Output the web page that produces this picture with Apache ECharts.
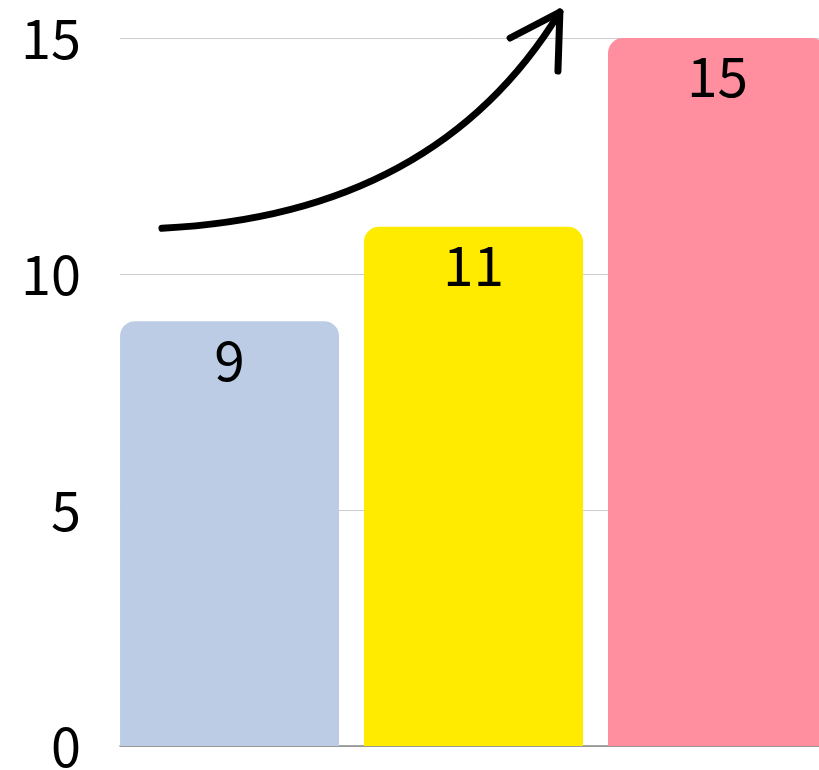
<!DOCTYPE html>
<html>
<head>
<meta charset="utf-8">
<script src="https://cdn.jsdelivr.net/npm/echarts@6/dist/echarts.min.js"></script>
<style>html,body{margin:0;padding:0;background:#fff}#c{width:819px;height:770px}</style>
</head>
<body>
<div id="c"></div>
<script>
var categories = ['A', 'B', 'C'];
var values = [9, 11, 15];
var colors = ['#BCCCE5', '#FFEB00', '#FF8F9F'];
var yTicks = [0, 5, 10, 15];
// arrow annotation in data coordinates: start, control, end, barbs
var arrowStart = [-0.277, 10.97];
var arrowCtrl = [0.846, 11.25];
var arrowEnd = [1.354, 15.55];
var arrowBarb1 = [1.150, 15.0];
var arrowBarb2 = [1.346, 14.3];

var FONT = '"Noto Sans CJK SC", "Source Sans Pro", "Noto Sans", sans-serif';
var chart = echarts.init(document.getElementById('c'));
var option = {
  animation: false,
  grid: { left: 120, right: 0, top: 38, bottom: 24, containLabel: false, outerBoundsMode: 'none' },
  xAxis: {
    type: 'value', min: -0.449, max: 2.416,
    axisLabel: { show: false }, axisTick: { show: false }, splitLine: { show: false },
    axisLine: { show: true, onZero: false, lineStyle: { color: '#888', width: 1.5 } }
  },
  yAxis: {
    type: 'value', min: yTicks[0], max: yTicks[yTicks.length - 1], interval: yTicks[1] - yTicks[0],
    axisLine: { show: false }, axisTick: { show: false },
    splitLine: { lineStyle: { color: '#cccccc', width: 1 } },
    axisLabel: { margin: 39, fontSize: 54, color: '#000', fontFamily: FONT }
  },
  series: [{
    type: 'bar',
    barWidth: 219,
    data: values.map(function (v, i) {
      return { value: [i, v], name: categories[i], itemStyle: { color: colors[i], borderRadius: [15, 15, 0, 0] } };
    }),
    label: {
      show: true, position: 'insideTop', distance: 11,
      fontSize: 55, color: '#000', fontFamily: FONT,
      formatter: function (p) { return p.value[1]; }
    }
  }]
};
chart.setOption(option);
function px(p) { return chart.convertToPixel({ gridIndex: 0 }, p); }
var s = px(arrowStart), c = px(arrowCtrl), e = px(arrowEnd), b1 = px(arrowBarb1), b2 = px(arrowBarb2);
chart.setOption({
  graphic: [
    { type: 'bezierCurve', shape: { x1: s[0], y1: s[1], cpx1: c[0], cpy1: c[1], x2: e[0], y2: e[1] },
      style: { stroke: '#000', lineWidth: 7, fill: null, lineCap: 'round' }, z: 100 },
    { type: 'polyline', shape: { points: [b1, e, b2] },
      style: { stroke: '#000', lineWidth: 7, fill: null, lineCap: 'round', lineJoin: 'round' }, z: 100 }
  ]
});
</script>
</body>
</html>
